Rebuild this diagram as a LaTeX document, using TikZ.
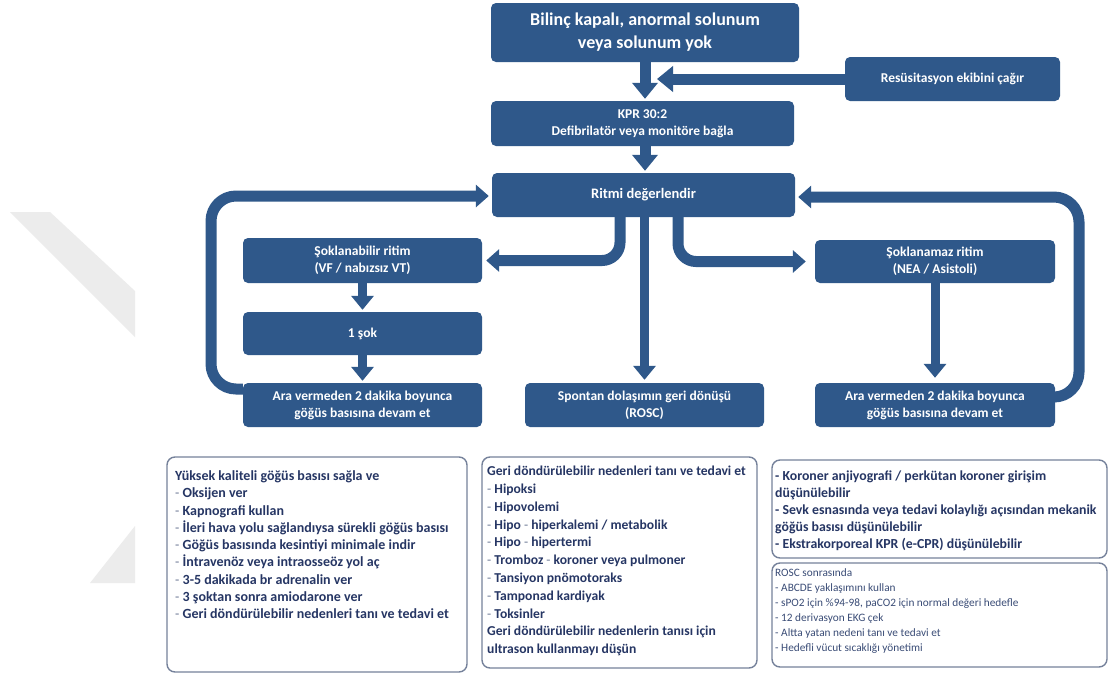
\documentclass[tikz,border=0pt]{standalone}
\usepackage{fontspec}
\setmainfont{Carlito}
\usetikzlibrary{arrows.meta}
\definecolor{nb}{RGB}{47,88,138}
\definecolor{tx}{RGB}{38,54,100}
\definecolor{tx2}{RGB}{58,76,118}
\definecolor{dashc}{RGB}{110,122,150}
\definecolor{bd}{RGB}{118,130,155}
\definecolor{wm}{RGB}{236,236,236}
\newcommand\dsh{{\mdseries\color{dashc}-}}
\begin{document}
\begin{tikzpicture}[x=1pt,y=-1pt,
  box/.style={fill=nb, rounded corners=5pt, text=white, align=center, inner sep=0pt,
    font=\bfseries\fontsize{13.5}{17}\selectfont},
  conn/.style={draw=nb, line width=11pt, -{Triangle[width=25pt,length=16pt]}},
  downline/.style={draw=nb, line width=9pt, -{Triangle[width=22pt,length=14pt]}},
  branch/.style={draw=nb, line width=11pt, -{Triangle[width=22pt,length=13pt]}, rounded corners=18pt},
  loopline/.style={branch, rounded corners=25pt},
  note/.style={draw=bd, line width=1.4pt, rounded corners=8pt, fill=white, inner sep=0pt},
  ntext/.style={anchor=north west, align=left, inner sep=0pt, text=tx}
]
\useasboundingbox (0,0) rectangle (1108,675);
\fill[white] (0,0) rectangle (1108,675);
% watermark
\fill[wm] (10,212) -- (50,212) -- (135,291) -- (135,337) -- cycle;
\fill[wm] (90,583) -- (135,583) -- (135,526) -- cycle;

% flow nodes
\node[box, minimum width=308pt, minimum height=59pt, font=\bfseries\fontsize{18}{23}\selectfont] (top) at (645,32.5) {Bilinç kapalı, anormal solunum\\veya solunum yok};
\node[box, minimum width=215pt, minimum height=44pt] (res) at (952.5,79) {Resüsitasyon ekibini çağır};
\node[box, minimum width=303pt, minimum height=45pt] (kpr) at (642.5,123.5) {KPR 30:2\\Defibrilatör veya monitöre bağla};
\node[box, minimum width=303pt, minimum height=44pt, font=\bfseries\fontsize{14.5}{17}\selectfont] (rit) at (643.5,195) {Ritmi değerlendir};
\node[box, minimum width=239pt, minimum height=45pt] (sokl) at (362.5,260.5) {Şoklanabilir ritim\\(VF / nabızsız VT)};
\node[box, minimum width=239pt, minimum height=43pt] (sok) at (362.5,333.5) {1 şok};
\node[box, minimum width=239pt, minimum height=44pt] (aral) at (362.5,405) {Ara vermeden 2 dakika boyunca\\göğüs basısına devam et};
\node[box, minimum width=239pt, minimum height=44pt] (rosc) at (644.5,405) {Spontan dolaşımın geri dönüşü\\(ROSC)};
\node[box, minimum width=240pt, minimum height=43pt] (soknm) at (935,261.5) {Şoklanamaz ritim\\(NEA / Asistoli)};
\node[box, minimum width=240pt, minimum height=44pt] (arar) at (935,405) {Ara vermeden 2 dakika boyunca\\göğüs basısına devam et};

% connectors
\coordinate (rtip) at (657,79);
\coordinate (lc) at (211,196);
\coordinate (rc) at (1079,197);
\draw[conn, shorten >=2pt] (top.south) -- (top.south |- kpr.north);
\draw[conn] (res.west) -- (rtip);
\draw[conn, shorten >=2pt] (top.south |- kpr.south) -- (top.south |- rit.north);
\draw[branch, shorten >=4pt] ([xshift=-23.5pt]rit.south) |- (sokl.east);
\draw[branch, shorten >=9pt] ([xshift=34.5pt]rit.south) |- (soknm.west);
\draw[downline, shorten >=3pt] (rit.south -| rosc.north) -- (rosc.north);
\draw[downline, shorten >=2pt] (sokl) -- (sok);
\draw[downline, shorten >=2pt] (sok) -- (aral);
\draw[downline, shorten >=5pt] (soknm) -- (arar);
\draw[loopline, shorten >=3pt] ([yshift=16pt]aral.west) -| (lc) -- (rit.west |- lc);
\draw[loopline, shorten >=3pt] ([yshift=8pt]arar.east) -| (rc) -- (rit.east |- rc);

% notes
\node[note, minimum width=300pt, minimum height=215pt] (n1) at (317,564.5) {};
\node[note, minimum width=275pt, minimum height=211pt] (n2) at (619.5,562.5) {};
\node[note, minimum width=335pt, minimum height=98pt] (n3) at (939.5,509) {};
\node[note, minimum width=335pt, minimum height=104pt] (n4) at (939.5,615) {};

\node[ntext, font=\bfseries\fontsize{14}{17.25}\selectfont] (t1) at (175,470.5) {Yüksek kaliteli göğüs basısı sağla ve\\\dsh{} Oksijen ver\\\dsh{} Kapnografi kullan\\\dsh{} İleri hava yolu sağlandıysa sürekli göğüs basısı\\\dsh{} Göğüs basısında kesintiyi minimale indir\\\dsh{} İntravenöz veya intraosseöz yol aç\\\dsh{} 3-5 dakikada br adrenalin ver\\\dsh{} 3 şoktan sonra amiodarone ver\\\dsh{} Geri döndürülebilir nedenleri tanı ve tedavi et};
\node[ntext, font=\bfseries\fontsize{13.6}{17.8}\selectfont] (t2) at (487,466) {Geri döndürülebilir nedenleri tanı ve tedavi et\\\dsh{} Hipoksi\\\dsh{} Hipovolemi\\\dsh{} Hipo \dsh{} hiperkalemi / metabolik\\\dsh{} Hipo \dsh{} hipertermi\\\dsh{} Tromboz \dsh{} koroner veya pulmoner\\\dsh{} Tansiyon pnömotoraks\\\dsh{} Tamponad kardiyak\\\dsh{} Toksinler\\Geri döndürülebilir nedenlerin tanısı için\\ultrason kullanmayı düşün};
\node[ntext, font=\bfseries\fontsize{13.8}{17}\selectfont] (t3) at (775,471) {- Koroner anjiyografi / perkütan koroner girişim\\düşünülebilir\\- Sevk esnasında veya tedavi kolaylığı açısından mekanik\\göğüs basısı düşünülebilir\\- Ekstrakorporeal KPR (e-CPR) düşünülebilir};
\node[ntext, text=tx2, font=\fontsize{11.3}{15}\selectfont] (t4) at (775,568.5) {ROSC sonrasında\\- ABCDE yaklaşımını kullan\\- sPO2 için \%94-98, paCO2 için normal değeri hedefle\\- 12 derivasyon EKG çek\\- Altta yatan nedeni tanı ve tedavi et\\- Hedefli vücut sıcaklığı yönetimi};
\end{tikzpicture}
\end{document}
